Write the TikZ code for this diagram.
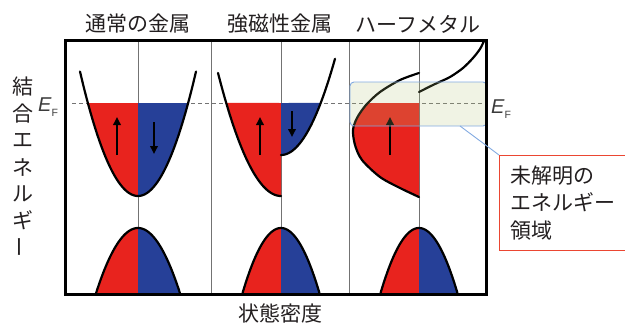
\documentclass[tikz,border=0pt]{standalone}
\usepackage{fontspec}
\setmainfont{Liberation Sans}
\newfontfamily\jp{Noto Sans CJK JP}
\usetikzlibrary{arrows.meta}
\definecolor{upred}{RGB}{232,35,30}
\definecolor{dnblue}{RGB}{38,64,152}
\definecolor{divgray}{RGB}{115,115,115}
\definecolor{hlfill}{RGB}{180,195,120}
\definecolor{hlborder}{RGB}{130,170,225}
\definecolor{boxred}{RGB}{235,70,50}
\definecolor{txt}{RGB}{35,31,32}
\definecolor{eftxt}{RGB}{60,60,60}
\begin{document}
\begin{tikzpicture}[x=1pt,y=-1pt,
  curve/.style={line width=2.2pt, black, line join=round, line cap=round},
  divider/.style={divgray, line width=0.9pt},
  spinarrow/.style={line width=1.8pt, -{Triangle[length=8pt,width=7.5pt]}},
  jptext/.style={text=txt, inner sep=0pt, font=\jp\fontsize{21}{21}\selectfont},
  eflabel/.style={text=eftxt, inner sep=0pt, anchor=base west}]
\useasboundingbox (0,0) rectangle (625,322);

% Fermi level
\draw[divgray, line width=0.9pt, dash pattern=on 4pt off 3pt] (72,103) -- (486,103);

% dividers and centre lines
\foreach \xx in {138,211,281,349,419}
  \draw[divider] (\xx,40) -- (\xx,294);

% ---------- panel 1 : normal metal ----------
\fill[upred] (138,103) -- plot[domain=-50.1:0, samples=40] ({138+\x},{196-0.037*\x*\x}) -- cycle;
\fill[dnblue] (138,103) -- plot[domain=50.1:0, samples=40] ({138+\x},{196-0.037*\x*\x}) -- cycle;
\draw[curve] plot[domain=-58:58, samples=80] ({138+\x},{196-0.037*\x*\x});
\fill[upred] (138,293) -- plot[domain=-41.9:0, samples=40] ({138+\x},{228+0.037*\x*\x}) -- cycle;
\fill[dnblue] (138,293) -- plot[domain=41.9:0, samples=40] ({138+\x},{228+0.037*\x*\x}) -- cycle;
\draw[curve] plot[domain=-41.9:41.9, samples=60] ({138+\x},{228+0.037*\x*\x});

% ---------- panel 2 : ferromagnetic metal ----------
\fill[upred] (281,103) -- plot[domain=-54.8:0, samples=40] ({281+\x},{196-0.031*\x*\x}) -- cycle;
\fill[dnblue] (281,103) -- plot[domain=39.7:0, samples=40] ({281+\x},{155-0.033*\x*\x}) -- cycle;
\draw[curve] plot[domain=-63:0, samples=50] ({281+\x},{196-0.031*\x*\x});
\draw[curve] plot[domain=0:54, samples=50] ({281+\x},{155-0.033*\x*\x});
\fill[upred] (281,293) -- plot[domain=-38.4:0, samples=40] ({281+\x},{228+0.044*\x*\x}) -- cycle;
\fill[dnblue] (281,293) -- plot[domain=38.4:0, samples=40] ({281+\x},{228+0.044*\x*\x}) -- cycle;
\draw[curve] plot[domain=-38.4:38.4, samples=60] ({281+\x},{228+0.044*\x*\x});

% ---------- panel 3 : half metal ----------
\begin{scope}
  \clip (349,103) rectangle (419,294);
  \fill[upred] plot[smooth] coordinates {(419,73) (400,80) (380,92) (366,105) (357,118) (353,130) (355,145) (362,160) (380,177) (400,188) (419,197)} -- cycle;
\end{scope}
\draw[curve] plot[smooth] coordinates {(419,73) (400,80) (380,92) (366,105) (357,118) (353,130) (355,145) (362,160) (380,177) (400,188) (419,197)};
\draw[curve] plot[smooth] coordinates {(419,92) (435,84) (450,77) (463,68) (473,58) (480,49) (484,41)};
\fill[upred] (419,293) -- plot[domain=-38.4:0, samples=40] ({419+\x},{228+0.044*\x*\x}) -- cycle;
\fill[dnblue] (419,293) -- plot[domain=38.4:0, samples=40] ({419+\x},{228+0.044*\x*\x}) -- cycle;
\draw[curve] plot[domain=-38.4:38.4, samples=60] ({419+\x},{228+0.044*\x*\x});

% spin arrows
\coordinate (a1s) at (117,155); \coordinate (a1e) at (117,117);
\coordinate (a2s) at (154,122); \coordinate (a2e) at (154,154);
\coordinate (a3s) at (260,155); \coordinate (a3e) at (260,117);
\coordinate (a4s) at (292,111); \coordinate (a4e) at (292,137);
\coordinate (a5s) at (390,155); \coordinate (a5e) at (390,117);
\draw[spinarrow] (a1s) -- (a1e);
\draw[spinarrow] (a2s) -- (a2e);
\draw[spinarrow] (a3s) -- (a3e);
\draw[spinarrow] (a4s) -- (a4e);
\draw[spinarrow] (a5s) -- (a5e);

% highlighted region
\node[draw=hlborder, line width=0.9pt, fill=hlfill, fill opacity=0.2, rounded corners=4pt,
      minimum width=137pt, minimum height=44pt, inner sep=0pt] (hl) at (418.5,104) {};

% frame
\draw[line width=3pt] (65.3,40.3) rectangle (486.7,294.2);

% callout
\node[draw=boxred, line width=0.9pt, fill=white, anchor=north west, minimum height=95pt,
      text width=122pt, inner xsep=11pt, inner ysep=0pt, align=left, text=txt,
      font=\jp\fontsize{21}{27.5}\selectfont] (note) at (499,155) {未解明の\\エネルギー\\領域};
\coordinate (hlpt) at (460,126);
\draw[hlborder, line width=0.9pt] (hlpt) -- (note.north west);

% titles
\node[jptext] (t1) at (138,24) {通常の金属};
\node[jptext] (t2) at (280,24) {強磁性金属};
\node[jptext] (t3) at (418,24) {ハーフメタル};
\node[jptext] (xl) at (280,313) {状態密度};

% vertical axis label
\foreach \c [count=\i] in {結,合,エ,ネ,ル,ギ,{\rotatebox[origin=c]{90}{ー}}}
  \node[jptext] (yl\i) at (23,{87+(\i-1)*26.7}) {\c};

% Fermi level labels
\node[eflabel] (efl) at (38,111) {\fontsize{20}{20}\selectfont\textit{E}\raisebox{-5.5pt}{\fontsize{10.5}{10.5}\selectfont F}};
\node[eflabel] (efr) at (491,113) {\fontsize{20}{20}\selectfont\textit{E}\raisebox{-5pt}{\fontsize{10.5}{10.5}\selectfont F}};
\end{tikzpicture}
\end{document}
